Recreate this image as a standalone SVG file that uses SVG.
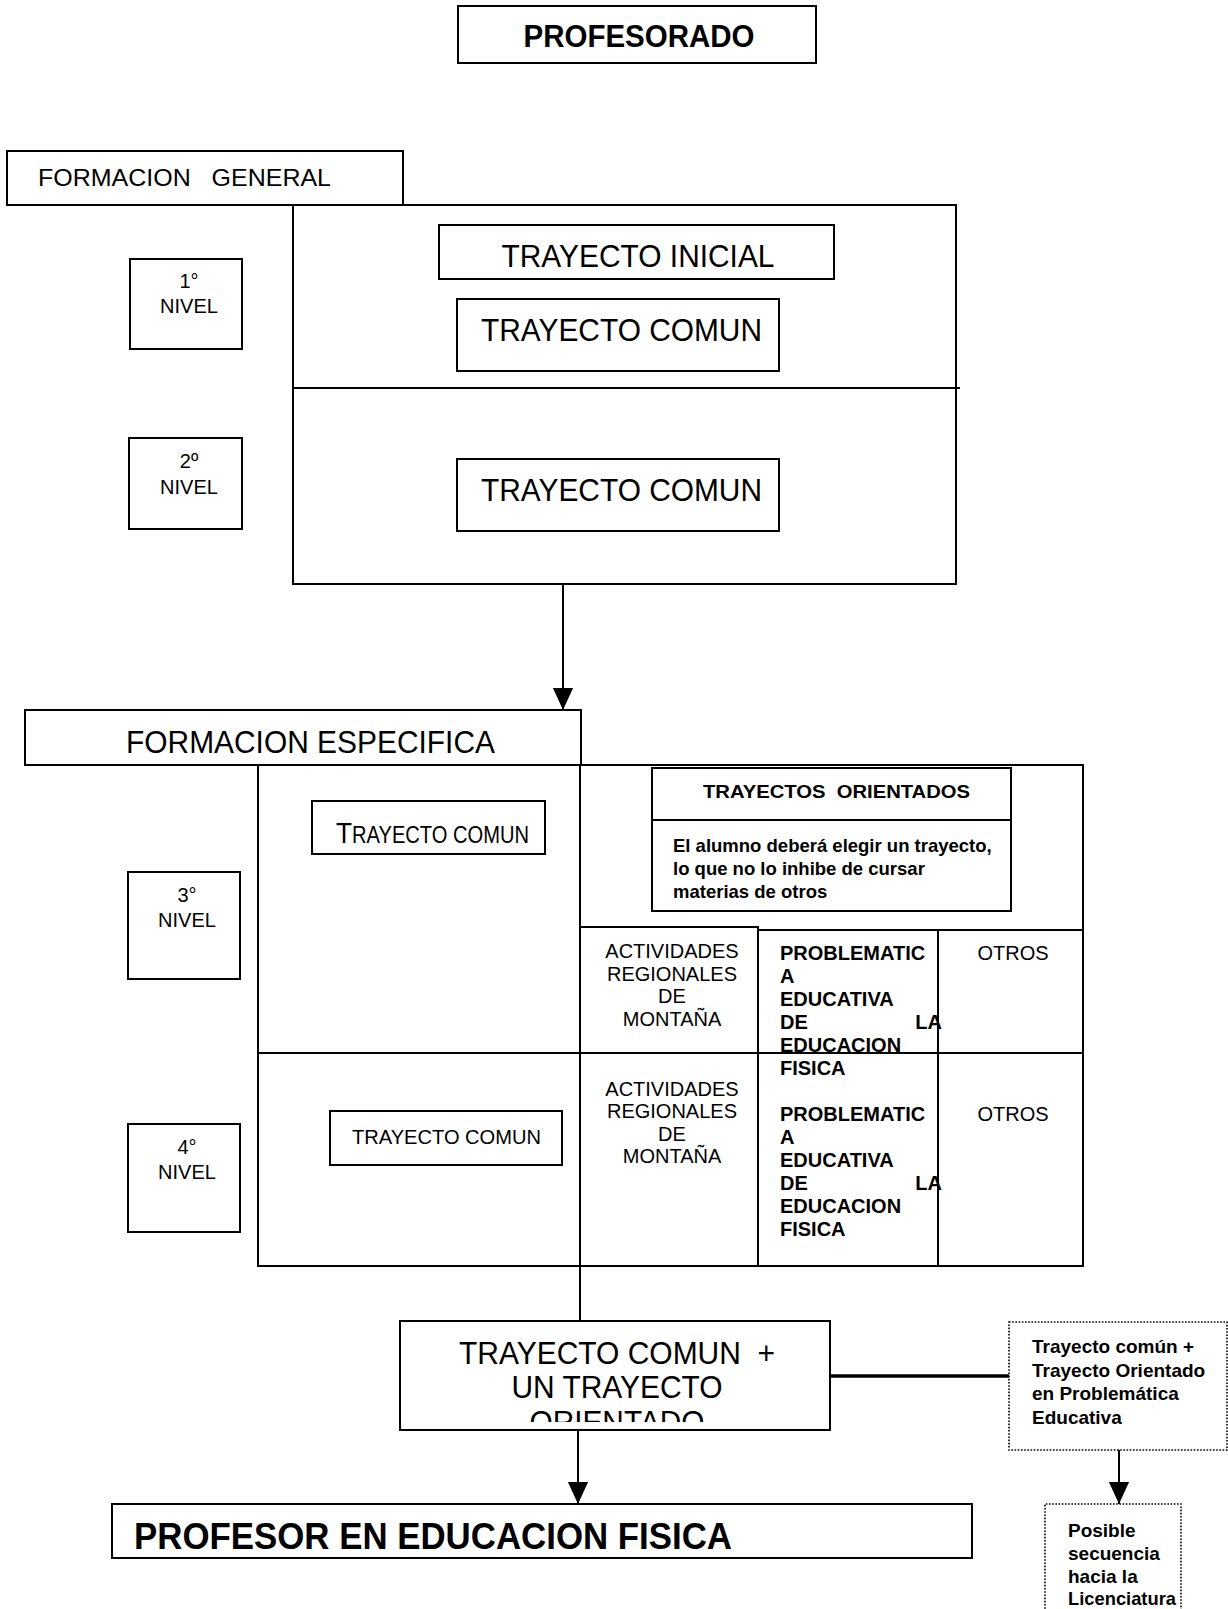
<svg xmlns="http://www.w3.org/2000/svg" width="1228" height="1609" viewBox="0 0 1228 1609">
<style>
text{font-family:"Liberation Sans",Arial,sans-serif;fill:#000}
.b{fill:none;stroke:#000;stroke-width:2}
.d{fill:none;stroke:#000;stroke-width:1.6;stroke-dasharray:1.6 1.6}
.ln{stroke:#000;stroke-width:2;fill:none}
.bold{font-weight:bold}
.big{font-size:31px}
.tb{font-size:20px}
.lv{font-size:20px;text-anchor:middle}
.c{text-anchor:middle}
.sm{font-size:19px;font-weight:bold}
</style>
<defs>
<marker id="arrd" markerUnits="userSpaceOnUse" markerWidth="22" markerHeight="24" viewBox="0 0 24 22" refX="24" refY="11" orient="auto">
<path d="M0,0 L24,11 L0,22 Z" fill="#000"/>
</marker>
<clipPath id="tcclip"><rect x="400" y="1322" width="430" height="100"/></clipPath>
</defs>

<g id="profesorado">
<rect class="b" x="458" y="6" width="358" height="57"/>
<text class="bold big c" x="639" y="47" textLength="231" lengthAdjust="spacingAndGlyphs">PROFESORADO</text>
</g>

<g id="formacion-general">
<rect class="b" x="7" y="151" width="396" height="54"/>
<text x="38" y="186" font-size="24" xml:space="preserve" textLength="293" lengthAdjust="spacingAndGlyphs">FORMACION   GENERAL</text>
</g>

<g id="bloque-general">
<path class="ln" d="M403,205 H956 V584 H293 V205"/>
<line class="ln" x1="293" y1="388" x2="960" y2="388"/>
</g>

<g id="trayecto-inicial">
<rect class="b" x="439" y="225" width="395" height="54"/>
<text class="big c" x="638" y="267" textLength="273" lengthAdjust="spacingAndGlyphs">TRAYECTO INICIAL</text>
</g>

<g id="trayecto-comun-1">
<rect class="b" x="457" y="299" width="322" height="72"/>
<text class="big" x="481" y="341" textLength="281" lengthAdjust="spacingAndGlyphs">TRAYECTO COMUN</text>
</g>

<g id="trayecto-comun-2">
<rect class="b" x="457" y="459" width="322" height="72"/>
<text class="big" x="481" y="501" textLength="281" lengthAdjust="spacingAndGlyphs">TRAYECTO COMUN</text>
</g>

<g id="nivel-1">
<rect class="b" x="130" y="259" width="112" height="90"/>
<text class="lv" x="189" y="288">1°</text>
<text class="lv" x="189" y="313">NIVEL</text>
</g>

<g id="nivel-2">
<rect class="b" x="129" y="438" width="113" height="91"/>
<text class="lv" x="189" y="468">2º</text>
<text class="lv" x="189" y="494">NIVEL</text>
</g>

<g id="formacion-especifica">
<rect class="b" x="25" y="710" width="556" height="55"/>
<text class="big" x="126" y="753" textLength="369" lengthAdjust="spacingAndGlyphs">FORMACION ESPECIFICA</text>
</g>

<g id="tabla-especifica">
<path class="ln" d="M581,765 H1083 V1266 H258 V765"/>
<line class="ln" x1="580" y1="765" x2="580" y2="1266"/>
<line class="ln" x1="258" y1="1053" x2="1083" y2="1053"/>
<rect class="b" x="580" y="927" width="178" height="126"/>
<line class="ln" x1="758" y1="930" x2="1083" y2="930"/>
<line class="ln" x1="758" y1="1053" x2="758" y2="1266"/>
<line class="ln" x1="938" y1="930" x2="938" y2="1266"/>
</g>

<g id="trayecto-comun-3">
<rect class="b" x="312" y="801" width="233" height="53"/>
<text x="336" y="843" textLength="193" lengthAdjust="spacingAndGlyphs"><tspan font-size="30">T</tspan><tspan font-size="23">RAYECTO COMUN</tspan></text>
</g>

<g id="nivel-3">
<rect class="b" x="128" y="872" width="112" height="107"/>
<text class="lv" x="187" y="902">3°</text>
<text class="lv" x="187" y="927">NIVEL</text>
</g>

<g id="nivel-4">
<rect class="b" x="128" y="1124" width="112" height="108"/>
<text class="lv" x="187" y="1154">4°</text>
<text class="lv" x="187" y="1179">NIVEL</text>
</g>

<g id="trayecto-comun-4">
<rect class="b" x="330" y="1111" width="232" height="54"/>
<text class="tb" x="352" y="1144" textLength="189" lengthAdjust="spacingAndGlyphs">TRAYECTO COMUN</text>
</g>

<g id="trayectos-orientados">
<rect class="b" x="652" y="768" width="359" height="143"/>
<line class="ln" x1="652" y1="820" x2="1011" y2="820"/>
<text class="sm" x="703" y="798" xml:space="preserve" textLength="267" lengthAdjust="spacingAndGlyphs">TRAYECTOS  ORIENTADOS</text>
<text font-size="18.5" font-weight="bold" x="673" y="852">El alumno deberá elegir un trayecto,</text>
<text font-size="18.5" font-weight="bold" x="673" y="875">lo que no lo inhibe de cursar</text>
<text font-size="18.5" font-weight="bold" x="673" y="898">materias de otros</text>
</g>

<g id="actividades-3">
<text class="tb c" x="672" y="958">ACTIVIDADES</text>
<text class="tb c" x="672" y="981">REGIONALES</text>
<text class="tb c" x="672" y="1003">DE</text>
<text class="tb c" x="672" y="1026">MONTAÑA</text>
</g>

<g id="problematica-3">
<text class="tb bold" x="780" y="960">PROBLEMATIC</text>
<text class="tb bold" x="780" y="983">A</text>
<text class="tb bold" x="780" y="1006">EDUCATIVA</text>
<text class="tb bold" x="780" y="1029">DE</text>
<text class="tb bold" x="942" y="1029" text-anchor="end">LA</text>
<text class="tb bold" x="780" y="1052">EDUCACION</text>
<text class="tb bold" x="780" y="1075">FISICA</text>
</g>

<g id="otros-3">
<text class="tb c" x="1013" y="960">OTROS</text>
</g>

<g id="actividades-4">
<text class="tb c" x="672" y="1096">ACTIVIDADES</text>
<text class="tb c" x="672" y="1118">REGIONALES</text>
<text class="tb c" x="672" y="1141">DE</text>
<text class="tb c" x="672" y="1163">MONTAÑA</text>
</g>

<g id="problematica-4">
<text class="tb bold" x="780" y="1121">PROBLEMATIC</text>
<text class="tb bold" x="780" y="1144">A</text>
<text class="tb bold" x="780" y="1167">EDUCATIVA</text>
<text class="tb bold" x="780" y="1190">DE</text>
<text class="tb bold" x="942" y="1190" text-anchor="end">LA</text>
<text class="tb bold" x="780" y="1213">EDUCACION</text>
<text class="tb bold" x="780" y="1236">FISICA</text>
</g>

<g id="otros-4">
<text class="tb c" x="1013" y="1121">OTROS</text>
</g>

<g id="trayecto-comun-mas-orientado">
<rect class="b" x="400" y="1321" width="430" height="109"/>
<g clip-path="url(#tcclip)">
<text class="big c" x="617" y="1364" xml:space="preserve" textLength="316" lengthAdjust="spacingAndGlyphs">TRAYECTO COMUN  +</text>
<text class="big c" x="617" y="1398" textLength="211" lengthAdjust="spacingAndGlyphs">UN TRAYECTO</text>
<text class="big c" x="617" y="1433" textLength="175" lengthAdjust="spacingAndGlyphs">ORIENTADO</text>
</g>
</g>

<g id="trayecto-problematica">
<rect class="d" x="1009" y="1322" width="218" height="128"/>
<text class="sm" x="1032" y="1353">Trayecto común +</text>
<text class="sm" x="1032" y="1377">Trayecto Orientado</text>
<text class="sm" x="1032" y="1400">en Problemática</text>
<text class="sm" x="1032" y="1424">Educativa</text>
</g>

<g id="posible-secuencia">
<path class="d" d="M1045,1612 V1504 H1181 V1612"/>
<text class="sm" x="1068" y="1537">Posible</text>
<text class="sm" x="1068" y="1560">secuencia</text>
<text class="sm" x="1068" y="1583">hacia la</text>
<text class="sm" x="1068" y="1605" textLength="108" lengthAdjust="spacingAndGlyphs">Licenciatura</text>
</g>

<g id="profesor-educacion-fisica">
<rect class="b" x="112" y="1504" width="860" height="54"/>
<text class="bold" font-size="37" x="134" y="1549" textLength="598" lengthAdjust="spacingAndGlyphs">PROFESOR EN EDUCACION FISICA</text>
</g>

<g id="connectors">
<line class="ln" x1="563" y1="584" x2="563" y2="710" marker-end="url(#arrd)"/>
<line class="ln" x1="580" y1="1266" x2="580" y2="1321"/>
<line class="ln" x1="578" y1="1430" x2="578" y2="1504" marker-end="url(#arrd)"/>
<line stroke="#000" stroke-width="3.5" x1="830" y1="1376" x2="1009" y2="1376"/>
<line class="ln" x1="1119" y1="1450" x2="1119" y2="1504" marker-end="url(#arrd)"/>
</g>
</svg>
